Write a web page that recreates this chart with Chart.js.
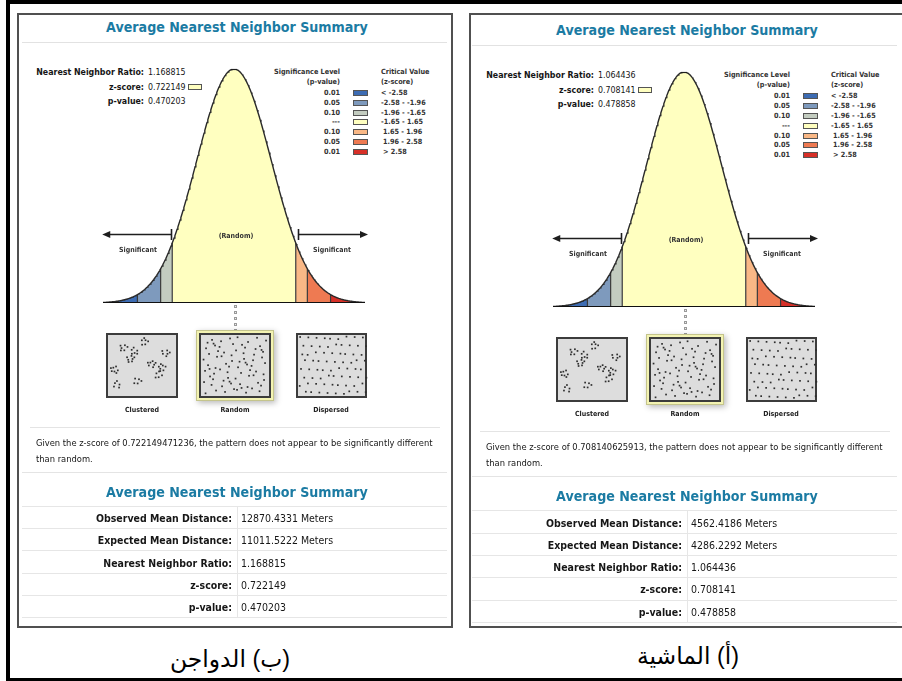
<!DOCTYPE html>
<html>
<head>
<meta charset="utf-8">
<script src="https://cdn.jsdelivr.net/npm/chart.js@4.4.1/dist/chart.umd.min.js"></script>
<style>
html,body{margin:0;padding:0;background:#fff;}
#page{position:relative;width:902px;height:681px;overflow:hidden;font-family:"DejaVu Sans Condensed","DejaVu Sans",Verdana,sans-serif;color:#161616;}
.t{position:absolute;white-space:nowrap;line-height:1;font-size:10px;}
.r{position:absolute;box-sizing:border-box;}
canvas{position:absolute;}
</style>
</head>
<body>
<div id="page"></div>
<script>
// ---------- values shown in the two reports (left: poultry, right: livestock) ----------
const panelCaptions = ['(ب) الدواجن', '(أ) الماشية'];
const observedMeanDistance = [12870.4331, 4562.4186];
const expectedMeanDistance = [11011.5222, 4286.2292];
const nearestNeighborRatio = [1.168815, 1.064436];
const zScores = [0.722149471236, 0.708140625913];
const pValues = [0.470203, 0.478858];

// ---------- significance classes of the normal curve ----------
const criticalZ = [-2.58, -1.96, -1.65, 1.65, 1.96, 2.58];
const significanceLevels = ['0.01', '0.05', '0.10', '---', '0.10', '0.05', '0.01'];
const criticalRanges = ['< -2.58', '-2.58 - -1.96', '-1.96 - -1.65', '-1.65 - 1.65', '1.65 - 1.96', '1.96 - 2.58', '> 2.58'];
const bandColors = ['#3d6cb3', '#7e9abd', '#c3ccc0', '#ffffc0', '#f9b886', '#ee7a52', '#d73028'];
const zRange = [-3.5, 3.5];
const patternLabels = ['Clustered', 'Random', 'Dispersed'];
const tableLabels = ['Observed Mean Distance:', 'Expected Mean Distance:', 'Nearest Neighbor Ratio:', 'z-score:', 'p-value:'];
const reportTitle = 'Average Nearest Neighbor Summary';

const page = document.getElementById('page');
const pdf = z => Math.exp(-z * z / 2) / Math.sqrt(2 * Math.PI);

// panel-local layout -> page coordinates (second report sits to the right, a touch lower)
function map(p, x, y) {
  return p === 0 ? [x, y] : [x + 450, y + 3 + (y - 13) * 0.003];
}

const groups = {};
function txt(p, x, y, s, o = {}) {
  const [px, py] = map(p, x, y);
  const d = document.createElement('div');
  d.className = 't';
  d.textContent = s;
  d.style.left = px + 'px';
  d.style.top = py + 'px';
  const ax = o.align === 'right' ? '-100%' : o.align === 'center' ? '-50%' : '0';
  d.style.transform = `translate(${ax},-50%)`;
  if (o.bold) d.style.fontWeight = 'bold';
  if (o.color) d.style.color = o.color;
  if (o.family) d.style.fontFamily = o.family;
  if (o.dir) d.dir = o.dir;
  page.appendChild(d);
  if (o.group) {
    const g = groups[o.group] || (groups[o.group] = { els: [] });
    g.els.push(d);
    if (o.fit) { g.ref = d; g.target = o.fit; }
  }
  return d;
}
function rect(x, y, w, h, css) {
  const d = document.createElement('div');
  d.className = 'r';
  Object.assign(d.style, { left: x + 'px', top: y + 'px', width: w + 'px', height: h + 'px' }, css);
  page.appendChild(d);
  return d;
}
function hline(p, x1, x2, y, color) {
  const [a, b] = map(p, x1, y);
  rect(a, Math.round(b), x2 - x1, 1, { background: color });
}

// ---------- outer frame ----------
rect(6, 0, 896, 4, { background: '#000' });
rect(6, 0, 4, 681, { background: '#000' });
rect(6, 678, 896, 3, { background: '#000' });

// ---------- bell curve drawn by Chart.js ----------
function curvePts(a, b) {
  const pts = [];
  const n = Math.max(2, Math.ceil((b - a) / 0.02));
  for (let i = 0; i <= n; i++) {
    const z = a + (b - a) * i / n;
    pts.push({ x: z, y: pdf(z) });
  }
  return pts;
}

const sigArrows = {
  id: 'sigArrows',
  afterDatasetsDraw(chart) {
    const { ctx, scales: { x, y } } = chart;
    const yy = Math.round(y.getPixelForValue(pdf(0) * 0.295)) + 0.5;
    ctx.save();
    ctx.strokeStyle = '#1e1e1e';
    ctx.fillStyle = '#1e1e1e';
    ctx.lineWidth = 1.6;
    const arrow = (tipZ, barZ) => {
      const tx = x.getPixelForValue(tipZ), bx = Math.round(x.getPixelForValue(barZ)) + 0.5;
      const dir = tipZ < barZ ? 1 : -1;
      ctx.beginPath();
      ctx.moveTo(bx, yy); ctx.lineTo(tx + dir * 5, yy);
      ctx.moveTo(bx, yy - 5.5); ctx.lineTo(bx, yy + 5.5);
      ctx.stroke();
      ctx.beginPath();
      ctx.moveTo(tx, yy); ctx.lineTo(tx + dir * 8, yy - 3.6); ctx.lineTo(tx + dir * 8, yy + 3.6);
      ctx.closePath(); ctx.fill();
    };
    arrow(-3.52, -1.68);
    arrow(3.58, 1.70);
    // small cap mark on the summit
    const cx = x.getPixelForValue(0), cy = y.getPixelForValue(pdf(0));
    ctx.lineWidth = 1.2;
    ctx.beginPath(); ctx.moveTo(cx - 3, cy + 0.5); ctx.lineTo(cx + 3, cy + 0.5); ctx.stroke();
    ctx.restore();
  }
};

function drawCurve(p) {
  const [L, T] = map(p, 103, 69), [R, B] = map(p, 365, 303);
  const pad = 12;
  const w = Math.round(R - L) + 2 * pad, h = Math.round(B - T) + 2 * pad;
  const cv = document.createElement('canvas');
  cv.width = w; cv.height = h;
  Object.assign(cv.style, { left: (Math.round(L) - pad) + 'px', top: (Math.round(T) - pad) + 'px', width: w + 'px', height: h + 'px' });
  page.appendChild(cv);
  const edges = [zRange[0], ...criticalZ, zRange[1]];
  const datasets = [];
  bandColors.forEach((c, i) => datasets.push({
    data: curvePts(edges[i], edges[i + 1]), backgroundColor: c, borderColor: c, borderWidth: 0,
    fill: 'origin', pointRadius: 0, order: 3
  }));
  criticalZ.forEach(z => datasets.push({
    data: [{ x: z, y: 0 }, { x: z, y: pdf(z) }], borderColor: '#3a3a3a', borderWidth: 1.2,
    fill: false, pointRadius: 0, order: 2
  }));
  datasets.push({ data: curvePts(zRange[0], zRange[1]), borderColor: '#2a2a2a', borderWidth: 1.4, fill: false, pointRadius: 0, order: 1 });
  datasets.push({ data: [{ x: zRange[0], y: 0 }, { x: zRange[1], y: 0 }], borderColor: '#111', borderWidth: 2.2, fill: false, pointRadius: 0, order: 0 });
  new Chart(cv, {
    type: 'line',
    data: { datasets },
    options: {
      responsive: false, animation: false, devicePixelRatio: 1, events: [],
      layout: { padding: pad },
      elements: { line: { tension: 0 } },
      plugins: { legend: { display: false }, tooltip: { enabled: false } },
      scales: {
        x: { type: 'linear', min: zRange[0], max: zRange[1], display: false },
        y: { min: 0, max: pdf(0), display: false }
      }
    },
    plugins: [sigArrows]
  });
}

// ---------- the three point-pattern pictograms ----------
function halton(i, b) { let f = 1, r = 0; while (i > 0) { f /= b; r += f * (i % b); i = Math.floor(i / b); } return r; }
function drawPatterns(p) {
  const [ox, oy] = map(p, 100, 325);
  const cv = document.createElement('canvas');
  cv.width = 285; cv.height = 90;
  Object.assign(cv.style, { left: Math.round(ox) + 'px', top: Math.round(oy) + 'px', width: '285px', height: '90px' });
  page.appendChild(cv);
  const ctx = cv.getContext('2d');
  const box = (x, y, w, h) => {
    ctx.fillStyle = '#dddddd'; ctx.fillRect(x, y, w, h);
    ctx.strokeStyle = '#3c3c3c'; ctx.lineWidth = 2; ctx.strokeRect(x, y, w, h);
  };
  const dot = (x, y) => { ctx.fillStyle = '#2e2e2e'; ctx.fillRect(x - 0.8, y - 0.8, 1.7, 1.7); };
  // clustered: small blobs of points around scattered centres
  box(7, 9, 70, 63);
  for (let c = 1; c <= 11; c++) {
    const cx = 13 + halton(c + 5, 2) * 56, cy = 15 + halton(c + 5, 3) * 50;
    const n = 5 + (c % 3);
    for (let k = 0; k < n; k++) {
      const a = k * 2.399963 + c * 1.3, rr = 1.2 + 3.2 * Math.sqrt((k + 0.5) / n);
      dot(cx + Math.cos(a) * rr, cy + Math.sin(a) * rr * 0.9);
    }
  }
  // random, highlighted
  ctx.save();
  ctx.shadowColor = 'rgba(0,0,0,0.28)'; ctx.shadowBlur = 6; ctx.shadowOffsetX = 2; ctx.shadowOffsetY = 2;
  ctx.fillStyle = '#f3f3b2'; ctx.fillRect(96, 5, 78, 71);
  ctx.restore();
  ctx.strokeStyle = '#c4c48c'; ctx.lineWidth = 1; ctx.strokeRect(96.5, 5.5, 77, 70);
  box(100, 9, 70, 63);
  for (let i = 1; i <= 78; i++) dot(103 + halton(i + 11, 2) * 64, 12 + halton(i + 11, 3) * 57);
  // dispersed
  box(197, 9, 69, 63);
  for (let r = 0; r < 8; r++) for (let c = 0; c < 9; c++) {
    const k = r * 9 + c + 1;
    dot(201 + c * 7.6 + (r % 2) * 3.6 + (halton(k, 5) - 0.5) * 3, 13 + r * 7.8 + (halton(k, 7) - 0.5) * 3);
  }
}

// ---------- one complete report panel ----------
function drawPanel(p) {
  const px = p === 0 ? 17 : 469;
  rect(px, 13, 436, 615, { border: '2px solid #505050' });

  txt(p, 237, 27, reportTitle, { bold: true, color: '#1b7ba3', align: 'center', group: 'title', fit: 262 });
  hline(p, 22, 447, 42, '#e2e2e2');

  // headline statistics
  txt(p, 144, 72, 'Nearest Neighbor Ratio:', { bold: true, align: 'right', group: 'info', fit: 108 });
  txt(p, 148, 72, nearestNeighborRatio[p].toFixed(6), { group: 'info' });
  txt(p, 144, 87, 'z-score:', { bold: true, align: 'right', group: 'info' });
  txt(p, 148, 87, zScores[p].toFixed(6), { group: 'info' });
  txt(p, 144, 101, 'p-value:', { bold: true, align: 'right', group: 'info' });
  txt(p, 148, 101, pValues[p].toFixed(6), { group: 'info' });
  const [sx, sy] = map(p, 188, 84);
  rect(sx, sy, 14, 6, { background: bandColors[3], border: '1px solid #555' });

  // significance legend
  txt(p, 340, 72, 'Significance Level', { bold: true, align: 'right', color: '#333', group: 'legend', fit: 66 });
  txt(p, 340, 81.5, '(p-value)', { bold: true, align: 'right', color: '#333', group: 'legend' });
  txt(p, 381, 72, 'Critical Value', { bold: true, color: '#333', group: 'legend' });
  txt(p, 381, 81.5, '(z-score)', { bold: true, color: '#333', group: 'legend' });
  significanceLevels.forEach((s, i) => {
    const y = 93 + i * 9.8;
    txt(p, 340, y, s, { bold: true, align: 'right', color: '#333', group: 'legend' });
    const [bx, by] = map(p, 353, y - 3);
    rect(bx, by, 15, 6, { background: bandColors[i], border: '1px solid #555' });
    txt(p, criticalRanges[i][0] === '-' || criticalRanges[i][0] === '<' ? 381 : 383, y, criticalRanges[i], { bold: true, color: '#333', group: 'legend' });
  });

  drawCurve(p);
  txt(p, 236, 236, '(Random)', { bold: true, color: '#333', align: 'center', group: 'small' });
  txt(p, 138, 250, 'Significant', { bold: true, color: '#333', align: 'center', group: 'small', fit: 38 });
  txt(p, 332, 250, 'Significant', { bold: true, color: '#333', align: 'center', group: 'small' });

  // dotted leader from the curve to the highlighted pattern
  [305, 311, 317, 323, 329].forEach(y => {
    const [a, b] = map(p, 234, y);
    rect(Math.round(a), Math.round(b), 3, 3, { border: '1px solid #9a9a9a', background: '#eee' });
  });

  drawPatterns(p);
  txt(p, 142, 410, patternLabels[0], { bold: true, color: '#222', align: 'center', group: 'small' });
  txt(p, 235, 410, patternLabels[1], { bold: true, color: '#222', align: 'center', group: 'small' });
  txt(p, 331, 410, patternLabels[2], { bold: true, color: '#222', align: 'center', group: 'small' });

  hline(p, 30, 440, 427, '#e4e4e4');
  txt(p, 36, 443, `Given the z-score of ${zScores[p]}, the pattern does not appear to be significantly different`, { group: 'body', fit: 397 });
  txt(p, 36, 458.5, 'than random.', { group: 'body' });
  hline(p, 22, 447, 472, '#e4e4e4');

  txt(p, 237, 492, reportTitle, { bold: true, color: '#1b7ba3', align: 'center', group: 'title' });

  // summary table
  const values = [
    observedMeanDistance[p].toFixed(4) + ' Meters',
    expectedMeanDistance[p].toFixed(4) + ' Meters',
    nearestNeighborRatio[p].toFixed(6),
    zScores[p].toFixed(6),
    pValues[p].toFixed(6)
  ];
  const rows = [506, 528.2, 550.4, 572.6, 594.8, 617];
  rows.forEach(y => hline(p, 22, 447, y, '#e6e6e6'));
  const [vx, vy] = map(p, 237, 506);
  const [, vy2] = map(p, 237, 617);
  rect(vx, vy, 1, vy2 - vy, { background: '#e6e6e6' });
  tableLabels.forEach((lab, i) => {
    const y = (rows[i] + rows[i + 1]) / 2 + 1;
    txt(p, 232, y, lab, { bold: true, align: 'right', group: 'table', fit: i === 0 ? 136 : undefined });
    txt(p, 241, y, values[i], { group: 'table' });
  });
}

drawPanel(0);
drawPanel(1);

// captions under the two reports (right-to-left text)
txt(0, 230, 660, panelCaptions[0], { family: '"Liberation Sans","DejaVu Sans",sans-serif', color: '#000', group: 'cap', fit: 120, dir: 'rtl' });
txt(0, 688, 657, panelCaptions[1], { family: '"Liberation Sans","DejaVu Sans",sans-serif', color: '#000', group: 'cap', dir: 'rtl' });
groups.cap.els.forEach(e => { e.style.transform = 'translate(-50%,-50%)'; });

// size each text group so its reference line spans the intended width
Object.values(groups).forEach(g => {
  if (!g.ref) return;
  const w = g.ref.getBoundingClientRect().width;
  const size = 10 * g.target / w;
  g.els.forEach(e => { e.style.fontSize = size.toFixed(2) + 'px'; });
});
</script>
</body>
</html>
